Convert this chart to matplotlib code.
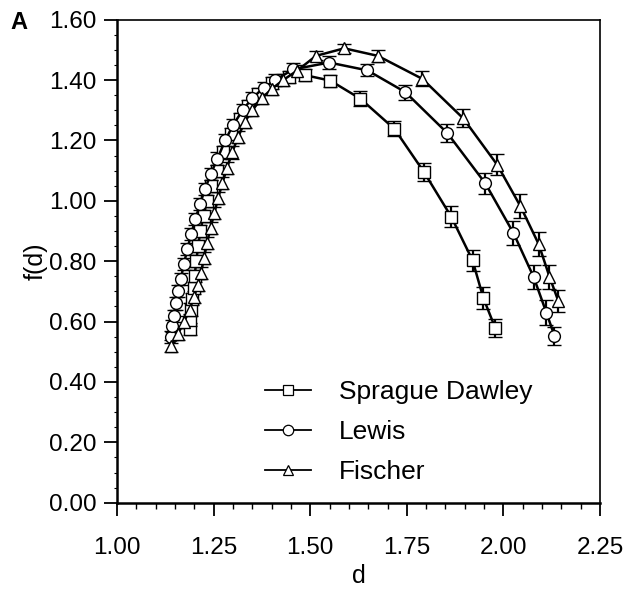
import matplotlib
matplotlib.use("Agg")
import matplotlib.pyplot as plt
from matplotlib.ticker import MultipleLocator, FormatStrFormatter
from matplotlib.lines import Line2D

plt.rcParams["font.family"] = ["Liberation Sans", "DejaVu Sans"]

# Sprague Dawley (squares)
sd_d = [1.188, 1.190, 1.192, 1.195, 1.198, 1.201, 1.205, 1.210, 1.216, 1.224,
        1.233, 1.244, 1.258, 1.275, 1.295, 1.318, 1.340, 1.365, 1.400, 1.445,
        1.487, 1.552, 1.630, 1.718, 1.795, 1.865, 1.920, 1.948, 1.979]
sd_f = [0.575, 0.605, 0.640, 0.675, 0.710, 0.750, 0.800, 0.850, 0.900, 0.950,
        1.000, 1.050, 1.100, 1.160, 1.220, 1.270, 1.315, 1.355, 1.390, 1.410,
        1.416, 1.398, 1.338, 1.238, 1.094, 0.947, 0.803, 0.678, 0.578]
sd_err = [0.02, 0.02, 0.02, 0.02, 0.02, 0.02, 0.02, 0.02, 0.02, 0.02,
          0.02, 0.02, 0.02, 0.02, 0.02, 0.02, 0.02, 0.02, 0.02, 0.02,
          0.02, 0.02, 0.025, 0.025, 0.03, 0.035, 0.035, 0.035, 0.03]

# Lewis (circles)
lw_d = [1.140, 1.143, 1.147, 1.152, 1.158, 1.165, 1.173, 1.182, 1.192, 1.203,
        1.215, 1.228, 1.243, 1.260, 1.280, 1.300, 1.325, 1.350, 1.380, 1.410,
        1.455, 1.549, 1.648, 1.746, 1.855, 1.953, 2.026, 2.078, 2.111, 2.132]
lw_f = [0.550, 0.585, 0.620, 0.660, 0.700, 0.740, 0.790, 0.840, 0.890, 0.940,
        0.990, 1.040, 1.090, 1.140, 1.200, 1.250, 1.300, 1.340, 1.375, 1.400,
        1.435, 1.458, 1.432, 1.360, 1.224, 1.058, 0.893, 0.748, 0.630, 0.553]
lw_err = [0.02, 0.02, 0.02, 0.02, 0.02, 0.02, 0.02, 0.02, 0.02, 0.02,
          0.02, 0.02, 0.02, 0.02, 0.02, 0.02, 0.02, 0.02, 0.02, 0.02,
          0.02, 0.02, 0.02, 0.025, 0.03, 0.035, 0.04, 0.04, 0.04, 0.03]

# Fischer (triangles)
fi_d = [1.140, 1.158, 1.174, 1.188, 1.199, 1.209, 1.217, 1.225, 1.233, 1.242,
        1.252, 1.262, 1.273, 1.285, 1.298, 1.313, 1.330, 1.350, 1.375, 1.400,
        1.430, 1.465, 1.515, 1.588, 1.675, 1.790, 1.896, 1.984, 2.044, 2.091,
        2.119, 2.142]
fi_f = [0.520, 0.560, 0.600, 0.640, 0.680, 0.720, 0.760, 0.810, 0.860, 0.910,
        0.960, 1.010, 1.060, 1.110, 1.160, 1.210, 1.260, 1.300, 1.340, 1.370,
        1.400, 1.430, 1.480, 1.505, 1.480, 1.404, 1.273, 1.119, 0.982, 0.857,
        0.749, 0.668]
fi_err = [0.02, 0.02, 0.02, 0.02, 0.02, 0.02, 0.02, 0.02, 0.02, 0.02,
          0.02, 0.02, 0.02, 0.02, 0.02, 0.02, 0.02, 0.02, 0.02, 0.02,
          0.02, 0.02, 0.015, 0.015, 0.02, 0.025, 0.03, 0.035, 0.04, 0.04,
          0.04, 0.035]

series = [
    ("Sprague Dawley", sd_d, sd_f, sd_err, "s"),
    ("Lewis", lw_d, lw_f, lw_err, "o"),
    ("Fischer", fi_d, fi_f, fi_err, "^"),
]

fig = plt.figure(figsize=(6.29, 5.95), dpi=100)
ax = fig.add_axes([0.186, 0.155, 0.768, 0.812])

handles = []
for name, d, f, e, m in series:
    ax.errorbar(d, f, yerr=e, fmt="-", color="black", lw=1.8,
                marker=m, ms=8.5, mfc="white", mec="black", mew=1.0,
                ecolor="black", elinewidth=1.6, capsize=5, capthick=2.0)
    handles.append(Line2D([], [], color="black", lw=1.3, marker=m, ms=7.5,
                          mfc="white", mec="black", mew=0.9, label=name))

ax.set_xlim(1.00, 2.25)
ax.set_ylim(0.00, 1.60)
ax.xaxis.set_major_locator(MultipleLocator(0.25))
ax.xaxis.set_minor_locator(MultipleLocator(0.05))
ax.yaxis.set_major_locator(MultipleLocator(0.20))
ax.yaxis.set_minor_locator(MultipleLocator(0.05))
ax.xaxis.set_major_formatter(FormatStrFormatter("%.2f"))
ax.yaxis.set_major_formatter(FormatStrFormatter("%.2f"))

ax.tick_params(which="major", direction="out", length=9.5, width=1.3,
               labelsize=17.5, top=False, right=False)
ax.tick_params(axis="x", which="major", pad=15)
ax.tick_params(axis="y", which="major", pad=5)
ax.tick_params(which="minor", direction="out", length=4, width=1.0,
               top=False, right=False)
ax.tick_params(axis="y", which="minor", length=2.5, width=0.8)

for side in ("left", "bottom"):
    ax.spines[side].set_linewidth(1.8)
for side in ("top", "right"):
    ax.spines[side].set_linewidth(1.2)

ax.set_xlabel("d", fontsize=18, labelpad=4)
ax.set_ylabel("f(d)", fontsize=18, labelpad=1)

ax.legend(handles=handles, loc="center left", bbox_to_anchor=(0.306, 0.146),
          frameon=False, fontsize=19, handlelength=1.75, labelspacing=0.61,
          handletextpad=1.05, borderpad=0, borderaxespad=0)

fig.text(0.016, 0.962, "A", fontsize=17, fontweight="bold", va="center")

fig.savefig("out.png", dpi=100)
